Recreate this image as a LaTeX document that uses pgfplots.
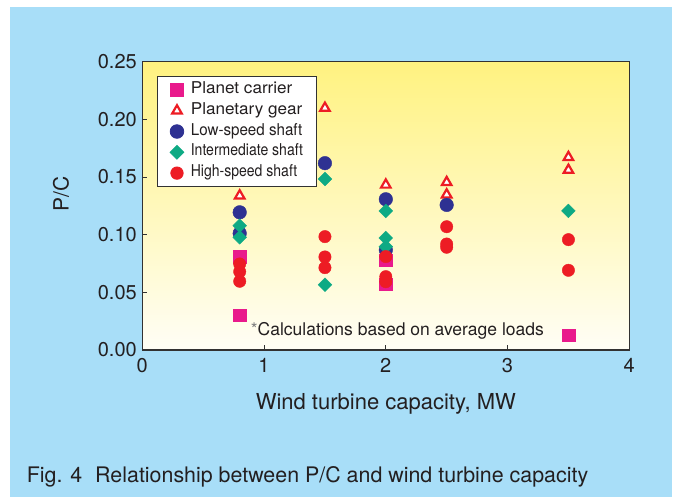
\documentclass[border=0pt]{standalone}
\usepackage{pgfplots}
\pgfplotsset{compat=1.18}
\usepackage{fontspec}
\setmainfont{TeX Gyre Heros}
\usepackage{graphicx}
\definecolor{bgblue}{RGB}{168,222,248}
\definecolor{plotyellow}{RGB}{255,242,128}
\definecolor{plotwhite}{RGB}{255,254,246}
\definecolor{axisgray}{RGB}{50,50,50}
\definecolor{textgray}{RGB}{35,31,32}
\definecolor{cmag}{RGB}{233,26,140}
\definecolor{cred}{RGB}{237,28,36}
\definecolor{cblue}{RGB}{46,49,146}
\definecolor{cteal}{RGB}{14,170,132}
\begin{document}
\begin{tikzpicture}
\useasboundingbox (0pt,0pt) rectangle (677pt,497pt);
\fill[white] (0pt,0pt) rectangle (677pt,497pt);
\fill[bgblue] (10pt,0pt) rectangle (672pt,490pt);
\begin{axis}[
  at={(142.3pt,147pt)}, anchor=origin,
  scale only axis, width=487pt, height=288.3pt,
  xmin=0, xmax=4, ymin=0, ymax=0.25,
  xtick={0,1,2,3,4}, ytick={0,0.05,0.1,0.15,0.2,0.25},
  axis background/.style={shade, top color=plotyellow, bottom color=plotwhite},
  axis line style={draw=axisgray, line width=1.2pt},
  tick style={draw=axisgray, line width=0.8pt},
  major tick length=5pt, tick align=inside,
  xtick pos=bottom, ytick pos=left,
  /pgf/number format/assume math mode=true,
  ticklabel style={font=\fontsize{20}{24}\selectfont, text=textgray},
  xticklabel style={yshift=-4.5pt},
  yticklabel style={xshift=-2pt, /pgf/number format/.cd, fixed, fixed zerofill, precision=2},
  legend style={at={(axis description cs:0.0296,0.950)}, anchor=north west,
    draw=axisgray, line width=0.8pt, fill=white, inner xsep=13pt, inner ysep=3pt,
    font=\fontsize{16.3}{19}\selectfont, text=textgray,
    nodes={inner sep=0pt, text height=14pt, text depth=6.8pt},
    column sep=7pt, row sep=0pt},
  legend cell align=left,
]
\addplot[only marks, mark=square*, mark size=6.3pt, color=cmag, mark options={draw=none, fill=cmag}]
 coordinates {(0.8,0.0809) (0.8,0.0301) (2,0.078) (2,0.0572) (3.5,0.0127)};
\addlegendentry{\scalebox{1.05}[1]{Planet carrier}}
\addplot[only marks, mark=triangle*, mark size=5.5pt, color=cred, mark options={draw=cred, fill=white, line width=2.2pt}]
 coordinates {(0.8,0.1338) (1.5,0.2098) (2,0.1432) (2.5,0.1454) (2.5,0.1347) (3.5,0.1671) (3.5,0.156)};
\addlegendentry{\scalebox{1.05}[1]{Planetary gear}}
\addplot[only marks, mark=*, mark size=6.8pt, color=cblue, mark options={draw=none, fill=cblue}]
 coordinates {(0.8,0.1194) (0.8,0.1012) (1.5,0.162) (2,0.1307) (2,0.0867) (2.5,0.1258)};
\addlegendentry{\scalebox{0.93}[1]{Low-speed shaft}}
\addplot[only marks, mark=square*, mark size=4.85pt, color=cteal, mark options={draw=none, fill=cteal, rotate=45}]
 coordinates {(0.8,0.1078) (0.8,0.0977) (1.5,0.1483) (1.5,0.0566) (2,0.1206) (2,0.0971) (2,0.0896) (3.5,0.1206)};
\addlegendentry{\scalebox{0.86}[1]{Intermediate shaft}}
\addplot[only marks, mark=*, mark size=6.2pt, color=cred, mark options={draw=none, fill=cred}]
 coordinates {(0.8,0.0746) (0.8,0.0679) (0.8,0.0596) (1.5,0.0983) (1.5,0.0807) (1.5,0.0714) (2,0.081) (2,0.0636) (2,0.0592) (2.5,0.1069) (2.5,0.0919) (2.5,0.0891) (3.5,0.0957) (3.5,0.0691)};
\addlegendentry{\scalebox{0.86}[1]{High-speed shaft}}
\node[anchor=base west, inner sep=0pt, font=\fontsize{17.5}{20}\selectfont, text=textgray]
  at (axis cs:0.89,0.013) {{\color{gray}*}Calculations based on average loads};
\end{axis}
\node[anchor=base, inner sep=0pt, font=\fontsize{22}{26}\selectfont, text=textgray] at (385.8pt,87.7pt) {Wind turbine capacity, MW};
\node[rotate=90, inner sep=0pt, font=\fontsize{21}{25}\selectfont, text=textgray] at (61pt,303pt) {P/C};
\node[anchor=base west, inner sep=0pt, font=\fontsize{21.4}{25}\selectfont, text=textgray] at (26.7pt,14.7pt) {Fig. 4\hspace{0.6em}Relationship between P/C and wind turbine capacity};
\end{tikzpicture}
\end{document}
